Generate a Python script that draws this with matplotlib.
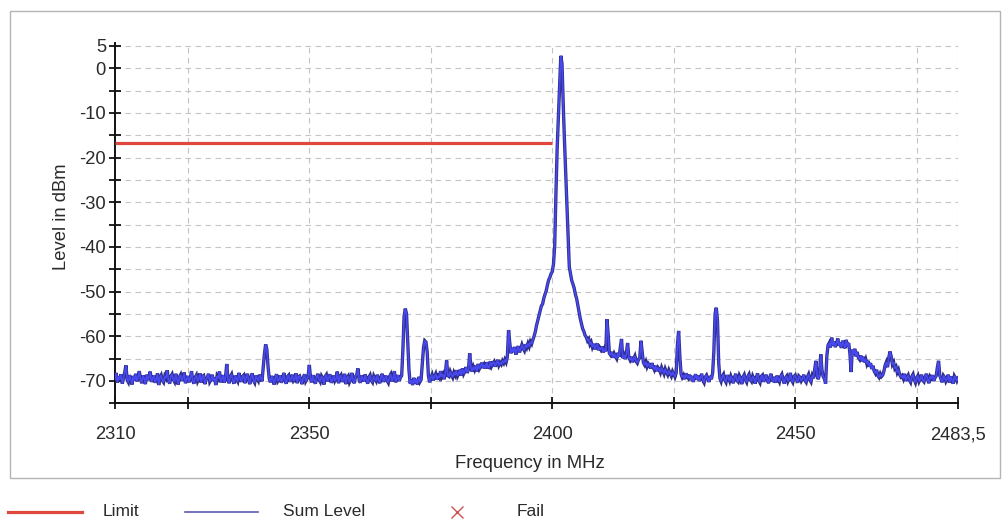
import numpy as np
import matplotlib
matplotlib.use("Agg")
import matplotlib.pyplot as plt
from matplotlib.lines import Line2D
from matplotlib.patches import Rectangle

# ---------------- data ----------------
F_START = 2310.0
F_STEP = 0.25
# Sum level trace (dBm), one row = 2 MHz (8 sweep points of 0.25 MHz)
SUM_LEVEL = [
    -69.6, -68.2, -70.4, -69.0, -69.7, -68.5, -70.6, -69.3,   # 2310
    -68.1, -66.5, -69.8, -70.3, -68.7, -69.5, -70.8, -68.9,   # 2312
    -69.9, -68.4, -70.1, -69.2, -67.8, -69.6, -70.5, -68.8,   # 2314
    -69.4, -70.7, -68.6, -69.8, -69.1, -67.9, -70.2, -69.5,   # 2316
    -68.8, -70.4, -69.6, -68.3, -70.9, -69.2, -68.7, -69.9,   # 2318
    -70.3, -68.9, -69.4, -67.6, -69.8, -70.6, -69.0, -68.5,   # 2320
    -69.7, -70.2, -68.4, -69.5, -70.8, -69.1, -68.6, -70.0,   # 2322
    -69.3, -68.1, -70.5, -69.6, -68.9, -70.3, -69.4, -67.8,   # 2324
    -69.9, -70.6, -69.2, -68.7, -70.1, -69.5, -68.3, -70.4,   # 2326
    -69.0, -68.8, -70.7, -69.6, -69.2, -68.4, -70.2, -69.7,   # 2328
    -68.6, -70.0, -69.3, -70.9, -68.9, -69.4, -67.9, -70.3,   # 2330
    -69.5, -68.7, -70.4, -69.1, -66.2, -69.8, -70.5, -69.0,   # 2332
    -68.5, -69.9, -70.6, -68.8, -69.6, -70.1, -68.2, -69.4,   # 2334
    -70.2, -69.0, -68.7, -70.5, -69.3, -68.4, -69.8, -70.7,   # 2336
    -69.1, -68.3, -69.9, -70.4, -68.8, -69.5, -70.0, -68.6,   # 2338
    -69.3, -70.1, -67.0, -64.0, -61.8, -62.9, -66.8, -69.5,   # 2340
    -70.3, -68.9, -69.6, -70.8, -69.2, -68.5, -70.1, -69.7,   # 2342
    -68.8, -70.4, -69.5, -68.2, -69.9, -70.6, -69.0, -68.7,   # 2344
    -70.2, -69.4, -68.6, -70.0, -69.7, -68.3, -70.5, -69.1,   # 2346
    -68.9, -69.8, -70.7, -69.3, -68.5, -70.1, -69.6, -68.8,   # 2348
    -66.4, -69.5, -70.3, -68.7, -69.9, -70.6, -69.2, -68.4,   # 2350
    -69.7, -70.2, -68.9, -69.4, -70.8, -69.0, -68.6, -70.1,   # 2352
    -69.3, -68.5, -70.4, -69.8, -68.8, -70.0, -69.5, -67.9,   # 2354
    -70.5, -69.1, -68.7, -70.2, -69.6, -68.4, -70.7, -69.3,   # 2356
    -68.9, -70.3, -69.7, -68.2, -69.9, -70.5, -69.0, -68.6,   # 2358
    -67.2, -69.8, -70.4, -68.8, -69.4, -70.1, -68.5, -69.7,   # 2360
    -70.6, -69.2, -68.7, -69.9, -70.3, -68.9, -69.5, -70.0,   # 2362
    -68.6, -69.8, -70.5, -69.1, -68.4, -70.2, -69.6, -68.8,   # 2364
    -69.9, -70.4, -69.0, -68.5, -70.1, -69.4, -67.8, -70.3,   # 2366
    -69.5, -68.7, -70.0, -69.2, -68.8, -63.0, -55.5, -53.8,   # 2368
    -55.0, -61.5, -67.5, -70.6, -69.8, -70.9, -69.3, -70.5,   # 2370
    -69.6, -70.8, -69.1, -70.2, -69.7, -66.0, -62.5, -61.0,   # 2372
    -61.3, -63.5, -68.8, -70.3, -69.2, -68.6, -69.9, -69.0,   # 2374
    -68.4, -69.7, -68.9, -69.3, -67.8, -69.1, -68.5, -69.6,   # 2376
    -68.2, -65.4, -68.8, -69.0, -67.9, -68.6, -69.2, -68.1,   # 2378
    -68.7, -67.6, -68.9, -68.3, -67.5, -68.8, -67.2, -68.4,   # 2380
    -67.8, -66.9, -68.2, -67.4, -63.8, -67.0, -67.9, -66.8,   # 2382
    -67.5, -66.6, -67.9, -66.2, -67.3, -66.8, -65.9, -67.1,   # 2384
    -66.4, -67.2, -65.8, -66.9, -67.0, -65.6, -66.7, -66.1,   # 2386
    -65.7, -66.8, -66.0, -65.3, -66.5, -65.9, -66.3, -65.5,   # 2388
    -66.0, -65.2, -65.8, -64.6, -58.6, -61.5, -63.8, -62.6,   # 2390
    -63.5, -62.4, -64.1, -63.0, -62.2, -63.6, -62.8, -61.9,   # 2392
    -62.7, -63.2, -61.8, -62.5, -61.6, -62.3, -61.2, -61.7,   # 2394
    -60.8, -60.0, -59.0, -57.6, -56.5, -55.5, -54.3, -53.2,   # 2396
    -52.8, -51.5, -50.6, -49.8, -48.5, -47.4, -46.8, -46.0,   # 2398
    -45.5, -43.8, -39.5, -28.0, -18.0, -11.0, -3.5, 2.8,      # 2400
    1.0, -8.0, -16.0, -23.0, -30.5, -37.0, -44.5, -46.0,      # 2402
    -47.5, -48.3, -49.2, -50.6, -51.5, -53.0, -54.5, -56.0,   # 2404
    -57.2, -58.3, -58.9, -59.8, -60.2, -61.0, -60.6, -61.8,   # 2406
    -61.3, -62.4, -61.7, -62.9, -62.2, -61.6, -63.1, -62.5,   # 2408
    -63.0, -62.3, -63.6, -62.8, -63.4, -56.2, -59.5, -63.8,   # 2410
    -64.2, -63.5, -64.8, -63.9, -64.5, -65.0, -63.7, -64.6,   # 2412
    -62.5, -60.6, -64.9, -64.2, -65.1, -63.8, -61.5, -64.7,   # 2414
    -65.3, -64.6, -65.8, -65.0, -64.4, -65.6, -66.0, -65.2,   # 2416
    -64.8, -61.0, -63.5, -65.9, -66.4, -65.7, -66.8, -66.1,   # 2418
    -66.5, -67.2, -66.0, -66.9, -67.5, -66.6, -67.8, -67.0,   # 2420
    -67.4, -68.1, -67.0, -67.7, -68.4, -67.3, -68.0, -68.6,   # 2422
    -67.6, -68.3, -68.9, -67.9, -68.5, -69.1, -68.2, -62.0,   # 2424
    -58.8, -64.5, -68.4, -69.2, -68.7, -69.6, -68.3, -69.0,   # 2426
    -69.4, -68.6, -69.8, -68.9, -70.2, -69.3, -68.5, -69.7,   # 2428
    -68.8, -70.0, -69.2, -68.4, -69.9, -70.4, -69.1, -68.7,   # 2430
    -69.5, -70.2, -68.9, -69.6, -68.2, -63.5, -55.0, -53.6,   # 2432
    -56.5, -66.0, -69.4, -70.1, -69.0, -68.5, -69.8, -70.3,   # 2434
    -68.7, -69.3, -70.0, -68.9, -69.6, -70.5, -69.2, -68.4,   # 2436
    -69.9, -70.2, -68.8, -69.4, -70.7, -69.1, -68.6, -69.8,   # 2438
    -70.3, -69.0, -68.5, -69.7, -70.1, -68.9, -69.5, -70.6,   # 2440
    -69.2, -68.3, -69.9, -70.4, -69.0, -68.7, -70.2, -69.4,   # 2442
    -68.6, -69.8, -70.5, -69.3, -68.4, -69.9, -70.0, -69.1,   # 2444
    -70.4, -68.8, -69.6, -70.2, -69.0, -68.5, -69.7, -70.6,   # 2446
    -69.3, -68.9, -70.1, -69.5, -68.2, -69.8, -70.3, -69.0,   # 2448
    -68.7, -69.6, -70.4, -68.9, -69.2, -70.0, -69.5, -68.6,   # 2450
    -69.9, -70.3, -69.1, -68.5, -69.7, -70.2, -68.8, -69.4,   # 2452
    -67.5, -65.5, -68.9, -69.6, -68.4, -64.0, -67.5, -69.0,   # 2454
    -69.5, -70.6, -64.5, -62.0, -61.5, -62.5, -60.3, -62.0,   # 2456
    -61.2, -62.4, -61.6, -60.5, -62.1, -61.4, -62.6, -61.0,   # 2458
    -61.8, -62.7, -60.8, -62.2, -61.5, -63.8, -68.0, -63.0,   # 2460
    -64.0, -62.8, -64.5, -63.5, -64.8, -65.2, -64.3, -65.6,   # 2462
    -64.6, -65.8, -65.1, -66.2, -65.5, -66.8, -66.0, -67.3,   # 2464
    -66.6, -67.8, -68.3, -67.5, -68.8, -69.2, -68.4, -69.0,   # 2466
    -68.7, -67.8, -66.5, -65.8, -66.9, -64.8, -63.4, -64.5,   # 2468
    -66.3, -65.8, -67.2, -66.8, -68.1, -67.5, -68.6, -69.1,   # 2470
    -68.8, -69.5, -68.4, -70.0, -69.2, -68.7, -69.8, -70.3,   # 2472
    -69.0, -68.5, -69.7, -70.4, -69.3, -68.8, -70.1, -69.5,   # 2474
    -68.6, -69.9, -70.2, -69.1, -68.4, -69.6, -70.5, -69.0,   # 2476
    -69.4, -68.7, -70.0, -69.3, -68.9, -67.0, -65.5, -68.8,   # 2478
    -69.6, -70.3, -68.8, -69.2, -70.1, -69.5, -68.6, -70.4,   # 2480
    -69.0, -69.7, -70.6, -68.9, -69.4, -70.0, -69.3,          # 2482
]
FREQ = F_START + F_STEP * np.arange(len(SUM_LEVEL))

LIMIT_FREQ = [2310.0, 2400.0]
LIMIT_LEVEL = [-16.8, -16.8]

X_TICKS = [2310, 2325, 2350, 2375, 2400, 2425, 2450, 2475, 2483.5]
X_LABELED = [2310, 2350, 2400, 2450, 2483.5]
X_LABELS = ["2310", "2350", "2400", "2450", "2483,5"]
Y_MAJOR = [5, 0, -10, -20, -30, -40, -50, -60, -70]
Y_MINOR = [-5, -15, -25, -35, -45, -55, -65, -75]
Y_GRID = [5, 0, -5, -10, -15, -20, -25, -30, -35, -40, -45, -50, -55, -60, -65, -70]

LEGEND_NAMES = ["Limit", "Sum Level", "Fail"]

# ---------------- figure ----------------
plt.rcParams["font.family"] = ["Liberation Sans", "DejaVu Sans"]
TXT = "#2a2a2a"
W, H = 1008, 526
fig = plt.figure(figsize=(W / 100, H / 100), dpi=100)

# outer light frame
fig.patches.append(Rectangle((10 / W, 1 - 478 / H), 990 / W, (478 - 11) / H,
                             transform=fig.transFigure, fill=False,
                             edgecolor="#b4b4b4", linewidth=1.0))

ax = fig.add_axes([115 / W, 1 - 403.3 / H, (958 - 115) / W, (403.3 - 43.3) / H])
ax.set_xlim(2310, 2483.5)
ax.set_ylim(-74.8, 5.6)

grid_kw = dict(color="#c4c4c4", linewidth=0.8, dashes=(5, 4), zorder=1)
for yv in Y_GRID:
    ax.axhline(yv, **grid_kw)
for xv in X_TICKS[1:]:
    ax.axvline(xv, **grid_kw)

# dark outline + bright blue core, like the analyzer trace
ax.plot(FREQ, SUM_LEVEL, color="#2e2e86", linewidth=2.4, zorder=3,
        solid_joinstyle="miter")
ax.plot(FREQ, SUM_LEVEL, color="#4848f2", linewidth=1.2, zorder=3.5,
        solid_joinstyle="miter")
ax.plot(LIMIT_FREQ, LIMIT_LEVEL, color="#e0473e", linewidth=2.3, zorder=4,
        solid_capstyle="butt")

for s in ["top", "right"]:
    ax.spines[s].set_visible(False)
for s in ["left", "bottom"]:
    ax.spines[s].set_linewidth(1.4)
    ax.spines[s].set_color("#111111")

ax.set_xticks(X_TICKS)
ax.set_xticklabels([X_LABELS[X_LABELED.index(t)] if t in X_LABELED else "" for t in X_TICKS])
ax.set_yticks(Y_MAJOR)
ax.set_yticklabels([str(v) for v in Y_MAJOR])
ax.set_yticks(Y_MINOR, minor=True)
ax.tick_params(axis="both", which="both", direction="inout", length=9, width=1.3,
               color="#111111", labelsize=13.2, labelcolor=TXT)
ax.tick_params(axis="x", pad=12)
ax.tick_params(axis="y", pad=2)

fig.text(62 / W, 1 - 217 / H, "Level in dBm", rotation=90, ha="center", va="center",
         fontsize=13.2, color=TXT)
fig.text(530 / W, 1 - 463 / H, "Frequency in MHz", ha="center", va="center",
         fontsize=13.3, color=TXT)

# legend (below frame)
ly = 1 - 512 / H
fig.lines.append(Line2D([8 / W, 82 / W], [ly, ly], transform=fig.transFigure,
                        color="#e0473e", linewidth=2.3))
fig.text(103 / W, ly, LEGEND_NAMES[0], ha="left", va="center", fontsize=12.5, color=TXT)
fig.lines.append(Line2D([185 / W, 258 / W], [ly, ly], transform=fig.transFigure,
                        color="#5a5ab4", linewidth=1.2))
fig.text(283 / W, ly, LEGEND_NAMES[1], ha="left", va="center", fontsize=12.5, color=TXT)
fig.lines.append(Line2D([457 / W], [ly], transform=fig.transFigure, marker="x",
                        markersize=8, markeredgewidth=1.0, color="#d05050", linestyle="none"))
fig.text(517 / W, ly, LEGEND_NAMES[2], ha="left", va="center", fontsize=12.5, color=TXT)

fig.savefig("out.png", dpi=100, facecolor="white")
